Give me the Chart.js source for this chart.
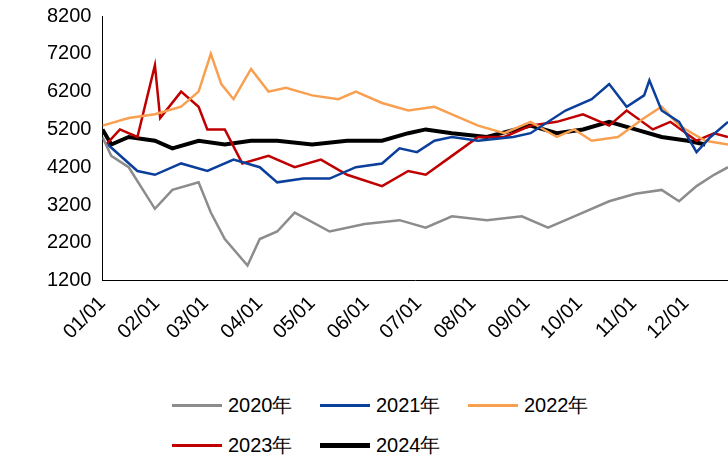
<!DOCTYPE html>
<html><head><meta charset="utf-8">
<script src="https://cdn.jsdelivr.net/npm/chart.js@4"></script>
<style>
body{margin:0;background:#fff;font-family:"Liberation Sans",Arial,sans-serif;}
#wrap{position:relative;width:728px;height:375px;}
.leg{position:absolute;font-size:20px;color:#000;display:flex;align-items:center;}
.leg span.l{display:inline-block;width:50px;margin-right:6px;}
</style></head><body>
<div id="wrap"><canvas id="c" width="728" height="375"></canvas></div>
<div class="leg" style="left:172px;top:392px"><span class="l" style="border-top:3px solid #8c8c8c"></span>2020年</div>
<div class="leg" style="left:320px;top:392px"><span class="l" style="border-top:3px solid #0b3f9c"></span>2021年</div>
<div class="leg" style="left:468px;top:392px"><span class="l" style="border-top:3px solid #f9a050"></span>2022年</div>
<div class="leg" style="left:172px;top:432px"><span class="l" style="border-top:3px solid #c00000"></span>2023年</div>
<div class="leg" style="left:320px;top:432px"><span class="l" style="border-top:5px solid #000"></span>2024年</div>
<script>
const monthDays = [0,31,59,90,120,151,181,212,243,273,304,334];
const monthLabels = ['01/01','02/01','03/01','04/01','05/01','06/01','07/01','08/01','09/01','10/01','11/01','12/01'];
const yTicks = [1200,2200,3200,4200,5200,6200,7200,8200];

const d2020 = [0,5,15,30,40,55,62,70,83,90,100,110,130,150,170,185,200,220,240,255,270,290,305,320,330,340,350,358];
const v2020 = [5000,4500,4200,3100,3600,3800,3000,2300,1600,2300,2500,3000,2500,2700,2800,2600,2900,2800,2900,2600,2900,3300,3500,3600,3300,3700,4000,4200];
const d2021 = [3,20,30,45,60,75,90,100,115,130,145,160,170,180,190,200,215,235,245,265,280,290,300,310,313,320,330,340,348,358];
const v2021 = [4800,4100,4000,4300,4100,4400,4200,3800,3900,3900,4200,4300,4700,4600,4900,5000,4900,5000,5100,5700,6000,6400,5800,6100,6500,5700,5400,4600,5000,5400];
const d2022 = [0,15,30,45,55,62,68,75,85,95,105,120,135,145,160,175,190,200,215,230,245,260,270,280,295,310,320,330,345,358];
const v2022 = [5300,5500,5600,5800,6200,7200,6400,6000,6800,6200,6300,6100,6000,6200,5900,5700,5800,5600,5300,5100,5400,5000,5200,4900,5000,5500,5800,5300,4900,4800];
const d2023 = [2,10,20,30,33,45,55,60,70,80,95,110,125,140,160,175,185,200,215,230,245,260,275,290,300,315,325,340,350,358];
const v2023 = [4800,5200,5000,6900,5500,6200,5800,5200,5200,4300,4500,4200,4400,4000,3700,4100,4000,4500,5000,5000,5300,5400,5600,5300,5700,5200,5400,4900,5100,5000];
const d2024 = [0,5,15,30,40,55,70,85,100,120,140,160,175,185,200,220,245,260,275,290,305,320,335,345];
const v2024 = [5200,4800,5000,4900,4700,4900,4800,4900,4900,4800,4900,4900,5100,5200,5100,5000,5300,5100,5200,5400,5200,5000,4900,4800];

const pts = (d,v) => d.map((x,i)=>({x:x,y:v[i]}));
const ds = (d,v,c,w) => ({data:pts(d,v),borderColor:c,borderWidth:w,pointRadius:0,tension:0,fill:false});

new Chart(document.getElementById('c'), {
  type:'line',
  data:{datasets:[
    ds(d2020,v2020,'#8c8c8c',2.5),
    ds(d2021,v2021,'#0b3f9c',2.5),
    ds(d2022,v2022,'#f9a050',2.5),
    ds(d2023,v2023,'#c00000',2.5),
    ds(d2024,v2024,'#000000',4)
  ]},
  options:{
    responsive:false,animation:false,
    layout:{padding:{top:16,right:0,left:44,bottom:28}},
    plugins:{legend:{display:false},tooltip:{enabled:false}},
    scales:{
      x:{type:'linear',min:0,max:358,
        afterBuildTicks:a=>{a.ticks=monthDays.map(v=>({value:v}));},
        ticks:{callback:v=>monthLabels[monthDays.indexOf(v)],maxRotation:45,minRotation:45,autoSkip:false,color:'#000',font:{size:20,family:'Liberation Sans'}},
        grid:{display:false},border:{color:'#000'}},
      y:{min:1200,max:8200,
        afterBuildTicks:a=>{a.ticks=yTicks.map(v=>({value:v}));},
        ticks:{callback:v=>String(v),color:'#000',font:{size:20,family:'Liberation Sans'}},
        grid:{display:false},border:{color:'#000'}}
    }
  }
});
</script></body></html>
